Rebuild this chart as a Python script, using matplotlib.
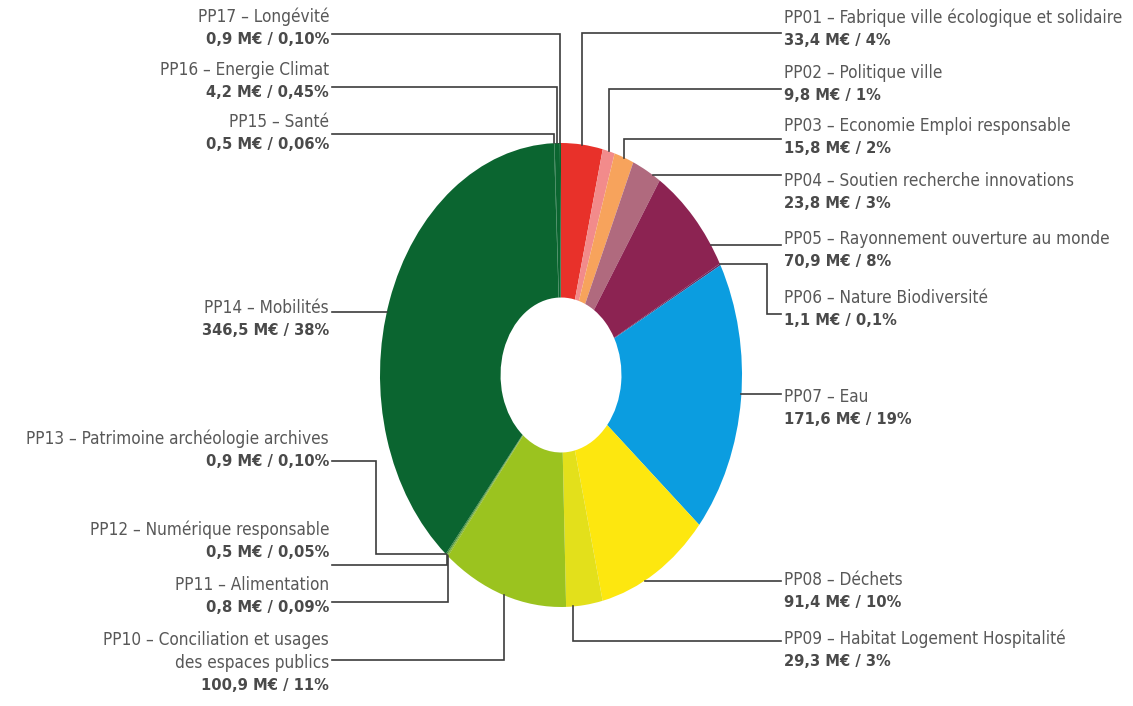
import matplotlib.pyplot as plt
from matplotlib import font_manager
import numpy as np

# narrow font like the original, if one is there
cond = [f for f in font_manager.fontManager.ttflist
        if f.name == 'DejaVu Sans' and f.stretch in ('condensed', 'semi-condensed')]
if cond:
    font_kw = dict(family='DejaVu Sans', fontstretch='condensed')
    size_title, size_value = 12.3, 11.8
else:
    font_kw = dict(family='Liberation Sans')
    size_title, size_value = 12.8, 12.3

# data (M€ per programme)
codes = ['PP01', 'PP02', 'PP03', 'PP04', 'PP05', 'PP06', 'PP07', 'PP08', 'PP09',
         'PP10', 'PP11', 'PP12', 'PP13', 'PP14', 'PP15', 'PP16', 'PP17']
names = ['Fabrique ville écologique et solidaire', 'Politique ville',
         'Economie Emploi responsable', 'Soutien recherche innovations',
         'Rayonnement ouverture au monde', 'Nature Biodiversité', 'Eau',
         'Déchets', 'Habitat Logement Hospitalité',
         'Conciliation et usages\ndes espaces publics', 'Alimentation',
         'Numérique responsable', 'Patrimoine archéologie archives',
         'Mobilités', 'Santé', 'Energie Climat', 'Longévité']
amounts = [33.4, 9.8, 15.8, 23.8, 70.9, 1.1, 171.6, 91.4, 29.3,
           100.9, 0.8, 0.5, 0.9, 346.5, 0.5, 4.2, 0.9]
shares = ['4%', '1%', '2%', '3%', '8%', '0,1%', '19%', '10%', '3%',
          '11%', '0,09%', '0,05%', '0,10%', '38%', '0,06%', '0,45%', '0,10%']
colors = ['#e8312a', '#f28b8b', '#f7a35c', '#b06a7e', '#8c2352', '#6b2a5e',
          '#0b9de0', '#fde70f', '#e3e01b', '#9bc31f', '#7fb227', '#5f9e2f',
          '#3c8a34', '#0b6530', '#0b6530', '#0b6530', '#0b6530']

# label layout in pixels: side, connector mode, title y, connector y, position in wedge, bend x
layout = [
    ('R', 'v', 18, 33, 0.5, None),
    ('R', 'v', 73, 89, 0.5, None),
    ('R', 'v', 126, 139, 0.5, None),
    ('R', 'h', 181, None, 0.73, None),
    ('R', 'h', 239, None, 0.81, None),
    ('R', 'e', 298, 314, 0.5, 767),
    ('R', 'h', 397, None, 0.48, None),
    ('R', 'h', 580, None, 0.61, None),
    ('R', 'v', 639, 641, 0.81, None),
    ('L', 'v', 640, 660, 0.5, None),
    ('L', 'v', 585, 602, 0.5, None),
    ('L', 'v', 530, 565, 0.5, None),
    ('L', 'e', 439, 461, 0.5, 376),
    ('L', 'h', 308, None, 0.48, None),
    ('L', 'v', 122, 134, 0.5, None),
    ('L', 'v', 70, 87, 0.5, None),
    ('L', 'v', 17, 34, 0.5, None),
]

W, H = 1133, 706
fig = plt.figure(figsize=(W / 100, H / 100), dpi=100)

# donut, stretched vertically like the original
pax = fig.add_axes([380 / W, 99 / H, 362 / W, 464 / H])
wedges, _ = pax.pie(amounts, colors=colors, startangle=90, counterclock=False,
                    wedgeprops=dict(width=0.666, linewidth=0))
pax.set_xlim(-1, 1)
pax.set_ylim(-1, 1)
pax.set_aspect('auto')
pax.axis('off')

ax = fig.add_axes([0, 0, 1, 1], zorder=3)
ax.set_xlim(0, W)
ax.set_ylim(H, 0)
ax.axis('off')
ax.patch.set_alpha(0)

to_px = pax.transData + ax.transData.inverted()
line_col = '#3c3c3c'
x_right, x_left = 784, 329
dy = 22.5

for i in range(len(codes)):
    side, mode, ty, ly, frac, bx = layout[i]
    w = wedges[i]
    ang = np.deg2rad(w.theta2 - frac * (w.theta2 - w.theta1))
    axp, ayp = to_px.transform((np.cos(ang), np.sin(ang)))
    edge = x_right - 3 if side == 'R' else x_left + 3
    if mode == 'h':
        xs, ys = [axp, edge], [ayp, ayp]
    elif mode == 'v':
        xs, ys = [axp, axp, edge], [ayp, ly, ly]
    else:
        xs, ys = [axp, bx, bx, edge], [ayp, ayp, ly, ly]
    ax.plot(xs, ys, color=line_col, lw=1.2, solid_joinstyle='miter')

    tx = x_right if side == 'R' else x_left
    ha = 'left' if side == 'R' else 'right'
    lines = (codes[i] + ' – ' + names[i]).split('\n')
    for k, s in enumerate(lines):
        ax.text(tx, ty + k * dy, s, ha=ha, va='center', color='#585858',
                fontsize=size_title, **font_kw)
    val = f'{amounts[i]:.1f}'.replace('.', ',') + ' M€ / ' + shares[i]
    ax.text(tx, ty + len(lines) * dy, val, ha=ha, va='center',
            fontweight='bold', color='#4a4a4a', fontsize=size_value, **font_kw)

fig.savefig('out.png', dpi=100, facecolor='white')
